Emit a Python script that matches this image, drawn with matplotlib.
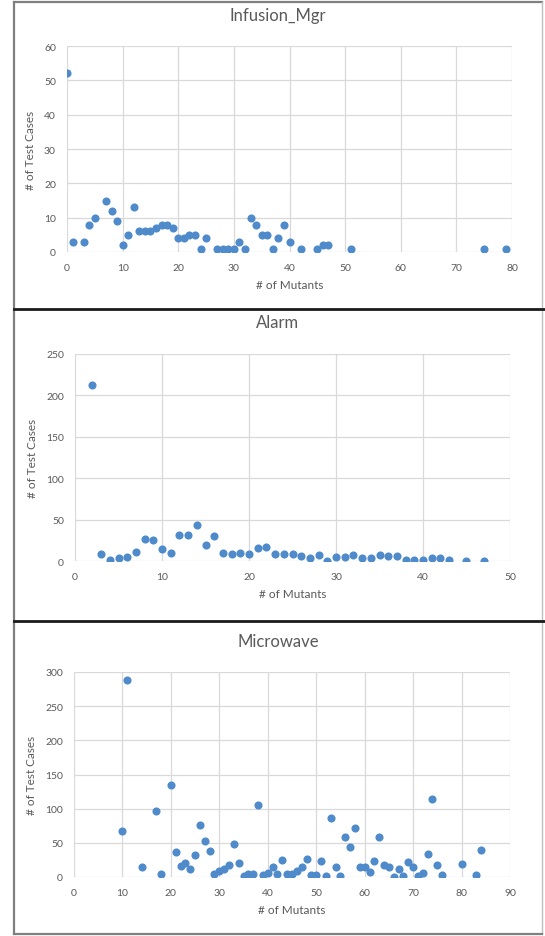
import matplotlib
matplotlib.use('Agg')
from matplotlib import pyplot as plt
from matplotlib.lines import Line2D

# Infusion_Mgr
infusion_mutants = [0, 1, 3, 4, 5, 7, 8, 9, 10, 11, 12, 13, 14, 15, 16, 17, 18, 19, 20, 21,
                    22, 23, 24, 25, 27, 28, 29, 30, 31, 32, 33, 34, 35, 36, 37, 38, 39, 40,
                    42, 45, 46, 47, 51, 75, 79]
infusion_tests = [52, 3, 3, 8, 10, 15, 12, 9, 2, 5, 13, 6, 6, 6, 7, 8, 8, 7, 4, 4,
                  5, 5, 1, 4, 1, 1, 1, 1, 3, 1, 10, 8, 5, 5, 1, 4, 8, 3,
                  1, 1, 2, 2, 1, 1, 1]

# Alarm
alarm_mutants = [2, 3, 4, 5, 6, 7, 8, 9, 10, 11, 12, 13, 14, 15, 16, 17, 18, 19, 20, 21,
                 22, 23, 24, 25, 26, 27, 28, 29, 30, 31, 32, 33, 34, 35, 36, 37, 38, 39,
                 40, 41, 42, 43, 45, 47]
alarm_tests = [212, 9, 1, 4, 5, 11, 26, 25, 15, 10, 31, 32, 43, 19, 30, 10, 9, 10, 8, 16,
               17, 8, 8, 9, 6, 4, 7, 0, 5, 5, 7, 4, 4, 7, 6, 6, 1, 1,
               1, 4, 4, 1, 0, 0]

# Microwave
micro_mutants = [10, 11, 14, 17, 18, 20, 21, 22, 23, 24, 25, 26, 27, 28, 29, 30, 31, 32, 33,
                 34, 35, 36, 37, 38, 39, 40, 41, 42, 43, 44, 45, 46, 47, 48, 49, 50, 51,
                 52, 53, 54, 55, 56, 57, 58, 59, 60, 61, 62, 63, 64, 65, 66, 67, 68, 69,
                 70, 71, 72, 73, 74, 75, 76, 80, 83, 84]
micro_tests = [67, 289, 15, 97, 4, 135, 36, 16, 20, 11, 32, 76, 52, 38, 4, 9, 12, 18, 48,
               21, 2, 4, 5, 106, 3, 6, 15, 5, 25, 5, 5, 9, 15, 26, 3, 3, 24,
               1, 87, 14, 1, 59, 44, 72, 15, 15, 8, 23, 58, 18, 15, 0, 12, 2, 22,
               14, 1, 6, 34, 114, 17, 3, 19, 3, 40]

MARKER = '#4F8BCB'
TEXT = '#595959'
GRID = '#D9D9D9'
FONT = 'Lato'


def draw_panel(fig, rect, title, title_y, xs, ys, xmax, xstep, ymax, ystep):
    ax = fig.add_axes(rect)
    ax.scatter(xs, ys, s=34, color=MARKER, zorder=3, linewidths=0)
    ax.set_xlim(0, xmax)
    ax.set_ylim(0, ymax)
    ax.set_xticks(range(0, xmax + 1, xstep))
    ax.set_yticks(range(0, ymax + 1, ystep))
    ax.grid(True, color=GRID, linewidth=0.9)
    ax.set_axisbelow(True)
    for s in ax.spines.values():
        s.set_visible(False)
    ax.tick_params(length=0, labelsize=7.5, labelcolor=TEXT, pad=8)
    for lab in ax.get_xticklabels() + ax.get_yticklabels():
        lab.set_family(FONT)
    ax.set_xlabel('# of Mutants', fontsize=8.5, color=TEXT, family=FONT, labelpad=5)
    ax.set_ylabel('# of Test Cases', fontsize=8.5, color=TEXT, family=FONT, labelpad=6)
    fig.text(0.5 * (14 + 542) / 545, 1 - title_y / 937, title, ha='center', va='center',
             fontsize=12, color=TEXT, family=FONT)
    return ax


def execute():
    fig = plt.figure(figsize=(5.45, 9.37), dpi=100)

    def px(x0, y0, x1, y1):
        return [x0 / 545, 1 - y1 / 937, (x1 - x0) / 545, (y1 - y0) / 937]

    draw_panel(fig, px(67, 47, 512, 253), 'Infusion_Mgr', 16,
               infusion_mutants, infusion_tests, 80, 10, 60, 10)
    draw_panel(fig, px(75, 355, 510, 562), 'Alarm', 323,
               alarm_mutants, alarm_tests, 50, 10, 250, 50)
    draw_panel(fig, px(74, 673, 510, 878), 'Microwave', 642,
               micro_mutants, micro_tests, 90, 10, 300, 50)

    # panel frames
    def fline(xa, ya, xb, yb, color, lw):
        fig.add_artist(Line2D([xa / 545, xb / 545], [1 - ya / 937, 1 - yb / 937],
                              color=color, linewidth=lw))

    fline(14, 3, 542, 3, '#7F7F7F', 1.6)
    fline(14, 3, 14, 935, '#7F7F7F', 1.6)
    fline(542, 3, 542, 935, '#BFBFBF', 1.0)
    fline(14, 935, 542, 935, '#7F7F7F', 1.6)
    fline(14, 310, 545, 310, '#1A1A1A', 2.0)
    fline(14, 622, 545, 622, '#1A1A1A', 2.0)

    fig.savefig('out.png', dpi=100)


if __name__ == "__main__":
    execute()
